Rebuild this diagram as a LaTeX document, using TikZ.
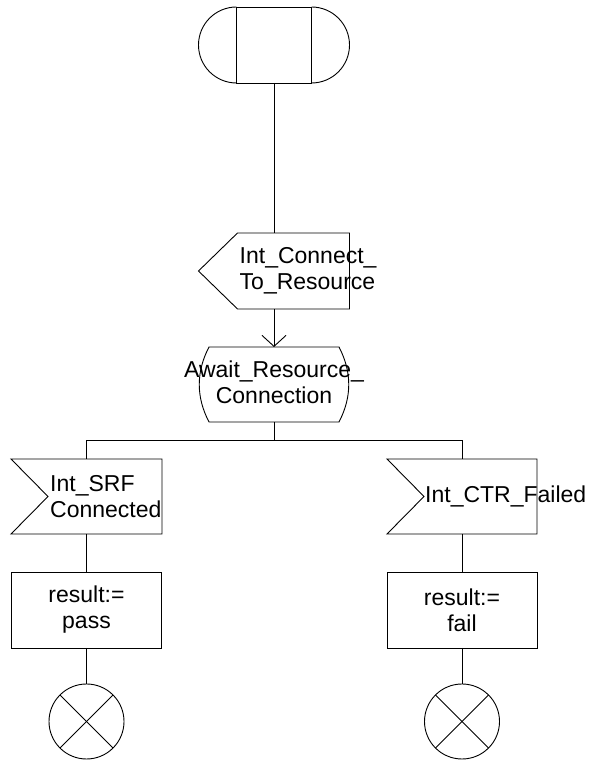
\documentclass[tikz,border=0pt]{standalone}
\usepackage{fontspec}
\setmainfont{Liberation Sans}
\usepackage{tikz}
\usetikzlibrary{arrows.meta,positioning}
\tikzset{
  sdlline/.style={line width=0.9pt, draw=black},
  sdltext/.style={font=\fontsize{23}{26}\selectfont, inner sep=0pt, align=left},
  startbox/.style={rectangle, sdlline, minimum width=75pt, minimum height=76pt,
    inner sep=0pt, outer sep=0pt},
  sigbox/.style={rectangle, minimum width=151pt, minimum height=76pt,
    inner sep=0pt, outer sep=0pt},
  statebox/.style={rectangle, minimum width=150pt, minimum height=75pt,
    inner sep=0pt, outer sep=0pt},
  taskbox/.style={rectangle, sdlline, minimum width=150pt, minimum height=76pt,
    inner sep=0pt, outer sep=0pt, font=\fontsize{23}{26}\selectfont, align=center},
  stopnode/.style={circle, sdlline, minimum size=75pt, inner sep=0pt, outer sep=0pt},
  flowarrow/.style={sdlline, -{Straight Barb[length=11pt,width=24pt]}},
  flowline/.style={sdlline},
}
\begin{document}
\begin{tikzpicture}[x=1pt, y=1pt]
\useasboundingbox (0,0) rectangle (593,760);

% start symbol
\node[startbox] (start) at (274,715) {};
\draw[sdlline] (start.north west) arc[start angle=90, end angle=270, radius=38pt];
\draw[sdlline] (start.north east) arc[start angle=90, end angle=-90, radius=38pt];

% internal input
\node[sigbox, below=150pt of start] (connect) {};
\draw[sdlline] ([xshift=39pt]connect.north west) -- (connect.north east)
  -- (connect.south east) -- ([xshift=39pt]connect.south west) -- (connect.west) -- cycle;
\node[sdltext, anchor=west] (connecttxt) at ([xshift=41pt]connect.west) {Int\_Connect\_\\To\_Resource};

% state
\node[statebox, below=38pt of connect] (await) {};
\draw[sdlline] ([xshift=10pt]await.north west) -- ([xshift=-10pt]await.north east)
  .. controls ([xshift=3pt,yshift=-25pt]await.north east) and ([xshift=3pt,yshift=25pt]await.south east)
  .. ([xshift=-10pt]await.south east) -- ([xshift=10pt]await.south west)
  .. controls ([xshift=-3pt,yshift=25pt]await.south west) and ([xshift=-3pt,yshift=-25pt]await.north west)
  .. cycle;
\node[sdltext, align=center] (awaittxt) at ([yshift=2pt]await.center) {Await\_Resource\_\\Connection};

% branches
\node[sigbox, minimum height=75pt] (srf) at (86.5,263.5) {};
\draw[sdlline] (srf.north west) -- (srf.north east) -- (srf.south east)
  -- (srf.south west) -- ([xshift=37pt]srf.west) -- cycle;
\node[sdltext, anchor=west] (srftxt) at ([xshift=39pt]srf.west) {Int\_SRF\\Connected};

\node[sigbox, minimum width=150pt, minimum height=75pt] (ctr) at (462,263.5) {};
\draw[sdlline] (ctr.north west) -- (ctr.north east) -- (ctr.south east)
  -- (ctr.south west) -- ([xshift=37pt]ctr.west) -- cycle;
\node[sdltext, anchor=west] (ctrtxt) at ([xshift=38pt]ctr.west) {Int\_CTR\_Failed};

% tasks
\node[taskbox, below=38pt of srf] (pass) {result:=\\pass};
\node[taskbox, below=38pt of ctr] (fail) {result:=\\fail};

% stops
\node[stopnode, below=36pt of pass] (stoppass) {};
\node[stopnode, below=36pt of fail] (stopfail) {};
\draw[sdlline] (stoppass.north west) -- (stoppass.south east);
\draw[sdlline] (stoppass.north east) -- (stoppass.south west);
\draw[sdlline] (stopfail.north west) -- (stopfail.south east);
\draw[sdlline] (stopfail.north east) -- (stopfail.south west);

% connectors
\draw[flowline] (start.south) -- (connect.north);
\draw[flowarrow] (connect.south) -- (await.north);
\coordinate (fork) at ([yshift=-18pt]await.south);
\draw[flowline] (await.south) -- (fork);
\draw[flowline] (fork) -| (srf.north);
\draw[flowline] (fork) -| (ctr.north);
\draw[flowline] (srf.south) -- (pass.north);
\draw[flowline] (ctr.south) -- (fail.north);
\draw[flowline] (pass.south) -- (stoppass.north);
\draw[flowline] (fail.south) -- (stopfail.north);

\end{tikzpicture}
\end{document}
